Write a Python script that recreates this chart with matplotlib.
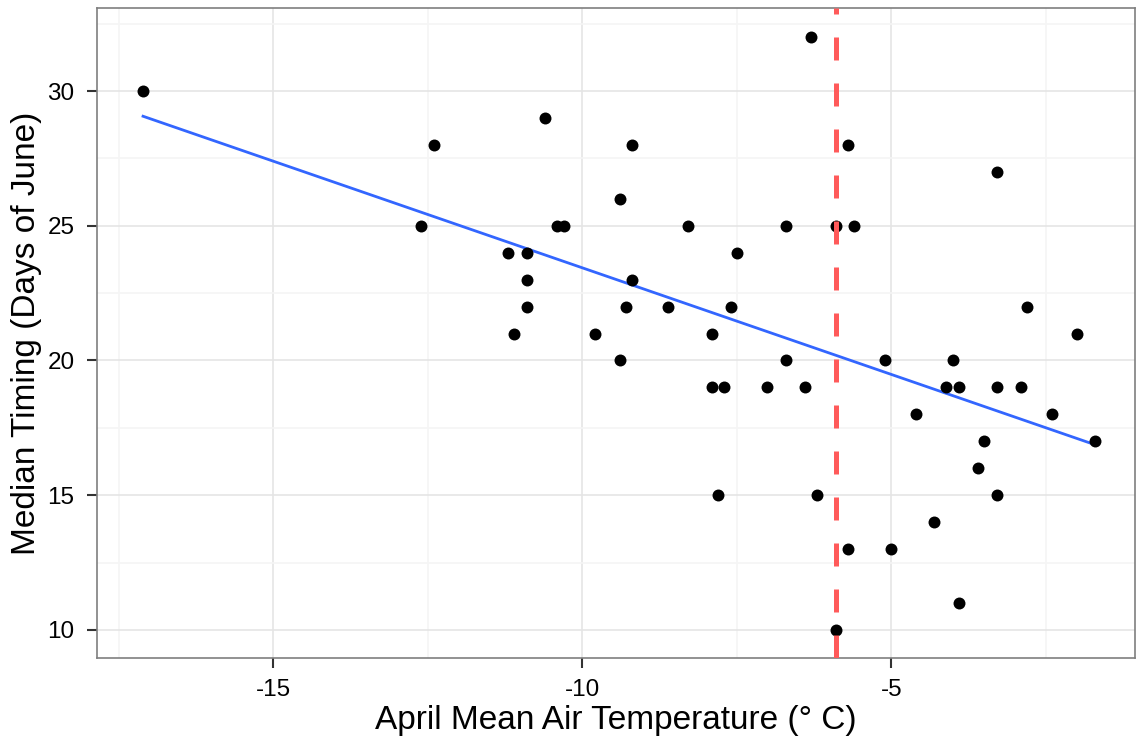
import numpy as np
import matplotlib
matplotlib.use("Agg")
import matplotlib.pyplot as plt
from matplotlib.ticker import MultipleLocator

plt.rcParams['font.family'] = ['Liberation Sans', 'DejaVu Sans']

# april mean air temperature (C) vs median timing (days of june)
temp = [-17.11, -12.40, -12.61, -6.31, -10.60, -9.20, -5.70, -9.40, -10.41, -10.30,
        -8.30, -6.71, -5.90, -5.61, -11.20, -10.90, -7.50, -10.90, -9.20, -10.90,
        -9.30, -8.61, -7.60, -11.10, -9.80, -7.90, -9.40, -6.71, -7.90, -7.71,
        -7.01, -6.40, -7.81, -6.20, -5.70, -5.90, -2.80, -2.00, -5.10, -4.00,
        -4.11, -3.90, -3.30, -2.91, -4.61, -2.40, -3.51, -1.71, -3.60, -3.30,
        -4.31, -5.01, -3.90, -3.30]
timing = [30, 28, 25, 32, 29, 28, 28, 26, 25, 25,
          25, 25, 25, 25, 24, 24, 24, 23, 23, 22,
          22, 22, 22, 21, 21, 21, 20, 20, 19, 19,
          19, 19, 15, 15, 13, 10, 22, 21, 20, 20,
          19, 19, 19, 19, 18, 18, 17, 17, 16, 15,
          14, 13, 11, 27]
threshold = -5.9

x = np.array(temp)
y = np.array(timing)

fig = plt.figure(figsize=(11.36, 7.42), dpi=100)
ax = fig.add_axes([0.0851, 0.1136, 0.9140, 0.8752])

# linear fit
b, a = np.polyfit(x, y, 1)
xs = np.array([x.min(), x.max()])
ax.plot(xs, a + b * xs, color='#3366FF', lw=2.0, zorder=3)

ax.scatter(x, y, s=74, color='black', zorder=4, linewidths=0)

ax.axvline(threshold, color='#FF5A5A', lw=3.6, dashes=(4.6, 4.6), zorder=5)

ax.set_xlim(-17.86, -1.06)
ax.set_ylim(8.97, 33.07)
ax.xaxis.set_major_locator(MultipleLocator(5))
ax.yaxis.set_major_locator(MultipleLocator(5))
ax.xaxis.set_minor_locator(MultipleLocator(2.5))
ax.yaxis.set_minor_locator(MultipleLocator(2.5))
ax.set_xticks([-15, -10, -5])
ax.set_xticklabels(['-15', '-10', '-5'])

ax.grid(which='major', color='#E5E5E5', lw=1.2, zorder=0)
ax.grid(which='minor', color='#F5F5F5', lw=1.2, zorder=0)
ax.set_axisbelow(True)

for sp in ax.spines.values():
    sp.set_color('#7F7F7F')
    sp.set_linewidth(1.2)

ax.tick_params(which='major', length=7, width=1.5, color='#333333',
               labelsize=17.5, labelcolor='black')
ax.tick_params(axis='x', pad=8)
ax.tick_params(axis='y', pad=9)
ax.tick_params(which='minor', length=0)

ax.set_xlabel('April Mean Air Temperature (° C)', fontsize=24, labelpad=3)
ax.set_ylabel('Median Timing (Days of June)', fontsize=24, labelpad=4)

fig.savefig('out.png', dpi=100)
